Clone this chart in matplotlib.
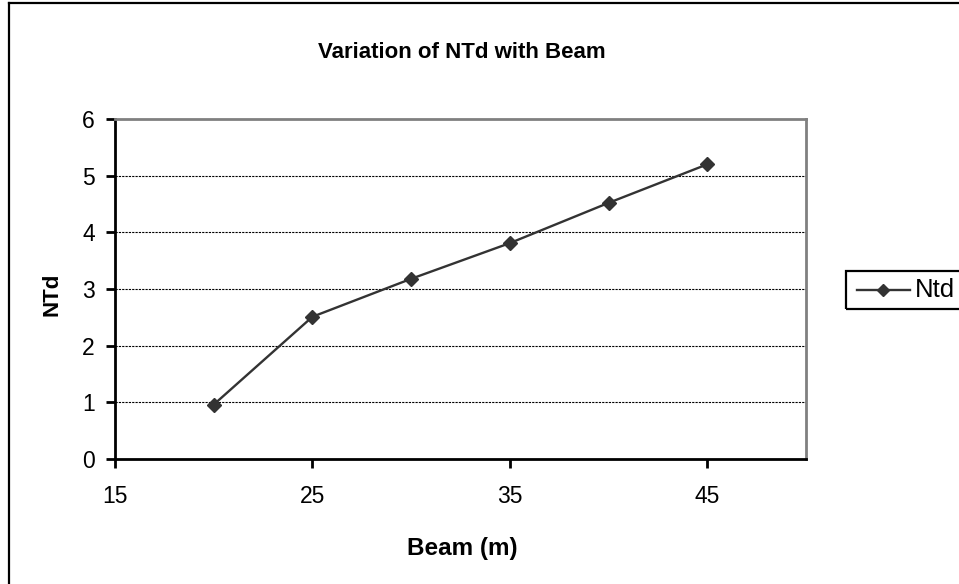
import matplotlib
matplotlib.use("Agg")
import matplotlib.pyplot as plt
from matplotlib.lines import Line2D
from matplotlib.patches import Rectangle

plt.rcParams['font.family'] = ['Liberation Sans', 'DejaVu Sans']

# Beam (m) and corresponding NTd values
beam = [20, 25, 30, 35, 40, 45]
ntd = [0.96, 2.51, 3.18, 3.81, 4.52, 5.20]
series_name = "Ntd"

x_ticks = [15, 25, 35, 45]
y_ticks = [0, 1, 2, 3, 4, 5, 6]

W, H = 959, 584
fig = plt.figure(figsize=(W / 100, H / 100), dpi=100)


def fx(px):
    return px / W


def fy(py):
    return 1 - py / H


# chart-area frame (left and top edges fall inside the canvas)
fig.add_artist(Line2D([fx(9), fx(9)], [fy(3), fy(590)], transform=fig.transFigure,
                      color='black', linewidth=1.6))
fig.add_artist(Line2D([fx(9), fx(970)], [fy(3), fy(3)], transform=fig.transFigure,
                      color='black', linewidth=1.6))

left, right, top, bottom = 115, 806, 119, 459
ax = fig.add_axes([fx(left), fy(bottom), (right - left) / W, (bottom - top) / H])

line_style = dict(color='#333333', linewidth=1.7, marker='D',
                  markerfacecolor='#333333', markeredgecolor='#333333')
ax.plot(beam, ntd, markersize=7, label=series_name, zorder=3, **line_style)

ax.set_xlim(15, 50)
ax.set_ylim(0, 6)
ax.set_xticks(x_ticks)
ax.set_yticks(y_ticks)

for y in y_ticks[1:-1]:
    ax.axhline(y, color='black', linewidth=0.8, linestyle=(0, (2, 1)), zorder=1)

for side in ('left', 'bottom'):
    ax.spines[side].set_color('black')
    ax.spines[side].set_linewidth(2)
for side in ('top', 'right'):
    ax.spines[side].set_color('#808080')
    ax.spines[side].set_linewidth(2)

ax.tick_params(axis='both', direction='out', length=6.5, width=2, labelsize=16.5, colors='black')
ax.tick_params(axis='x', pad=12)
ax.tick_params(axis='y', pad=8)

ax.set_xlabel('Beam (m)', fontsize=17.5, fontweight='bold', va='center')
ax.xaxis.set_label_coords(fx(462), fy(548), transform=fig.transFigure)
ax.set_ylabel('NTd', fontsize=16, fontweight='bold', va='center')
ax.yaxis.set_label_coords(fx(52), fy(294), transform=fig.transFigure)

fig.text(fx(462), fy(52), 'Variation of NTd with Beam', ha='center', va='center',
         fontsize=16, fontweight='bold')

# legend box running off the right edge of the chart area
fig.add_artist(Rectangle((fx(846), fy(309)), fx(980) - fx(846), fy(271) - fy(309),
                         transform=fig.transFigure, fill=False, edgecolor='black',
                         linewidth=1.6))
fig.add_artist(Line2D([fx(857), fx(910)], [fy(290), fy(290)], transform=fig.transFigure,
                      color='#333333', linewidth=1.7))
fig.add_artist(Line2D([fx(883)], [fy(290)], transform=fig.transFigure, linestyle='none',
                      marker='D', markersize=6, markerfacecolor='#333333',
                      markeredgecolor='#333333'))
fig.text(fx(915), fy(290), series_name, ha='left', va='center', fontsize=18.5)

fig.savefig('out.png', dpi=100)
